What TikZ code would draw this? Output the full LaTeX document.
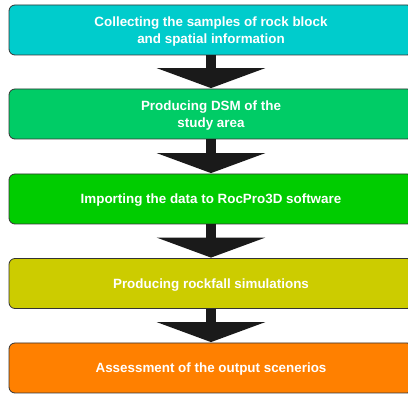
\documentclass[tikz,border=0pt]{standalone}
\usepackage{fontspec}
\setmainfont{Liberation Sans}
\usetikzlibrary{arrows.meta}
\definecolor{c1}{HTML}{00CCCC}
\definecolor{c2}{HTML}{00CC66}
\definecolor{c3}{HTML}{00CC00}
\definecolor{c4}{HTML}{CCCC00}
\definecolor{c5}{HTML}{FF8000}
\definecolor{arr}{HTML}{1A1A1A}
\definecolor{edge}{HTML}{333333}
\tikzset{
  stepbox/.style={draw=edge, line width=0.8pt, rounded corners=6pt,
    minimum width=404pt, minimum height=50pt, inner sep=0pt, text depth=0pt,
    text=white, font=\bfseries\fontsize{13.4}{16.6}\selectfont, align=center},
  bigarrow/.style={draw=arr, line width=9.5pt,
    -{Triangle[width=108pt,length=20pt]}, shorten >=0.5pt}
}
\begin{document}
\begin{tikzpicture}[x=1pt,y=-1pt]
\useasboundingbox (0,0) rectangle (408,396);
\clip (0,0) rectangle (408,396);
\node[stepbox, fill=c1] (a) at (211,30) {Collecting the samples of rock block\\and spatial information};
\node[stepbox, fill=c2] (b) at (211,114) {Producing DSM of the\\study area};
\node[stepbox, fill=c3] (c) at (211,199) {Importing the data to RocPro3D software};
\node[stepbox, fill=c4] (d) at (211,283.5) {Producing rockfall simulations};
\node[stepbox, fill=c5] (e) at (211,368) {Assessment of the output scenerios};
\draw[bigarrow] (a.south) -- (b.north);
\draw[bigarrow] (b.south) -- (c.north);
\draw[bigarrow] (c.south) -- (d.north);
\draw[bigarrow] (d.south) -- (e.north);
\end{tikzpicture}
\end{document}
